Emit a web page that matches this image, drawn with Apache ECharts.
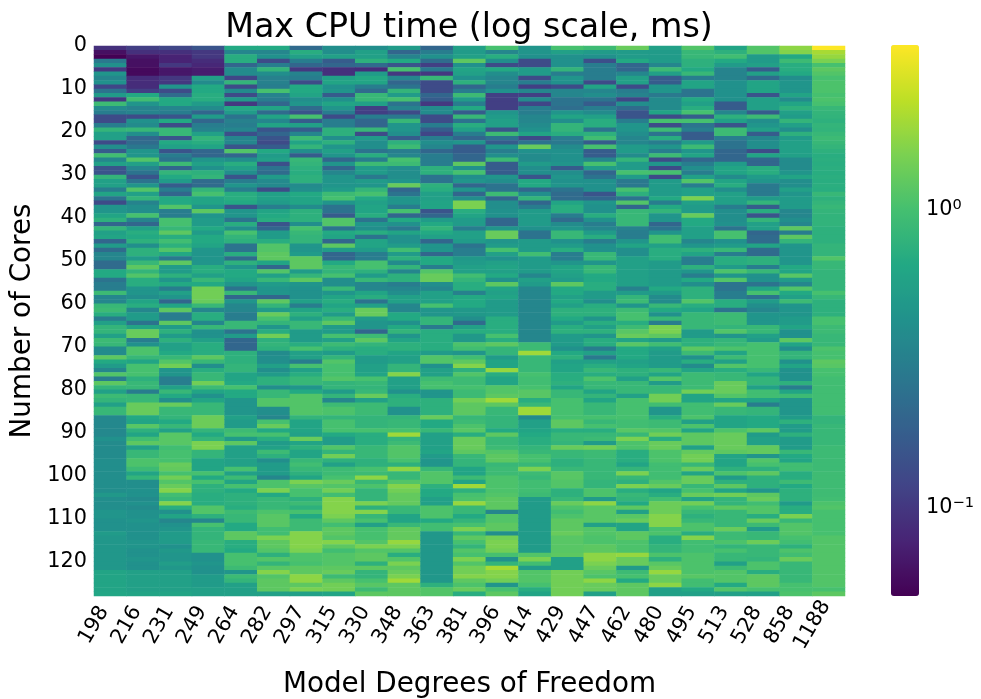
<!DOCTYPE html>
<html>
<head>
<meta charset="utf-8">
<title>Max CPU time</title>
<script src="https://cdn.jsdelivr.net/npm/echarts@6/dist/echarts.min.js"></script>
<style>
  html, body { margin: 0; padding: 0; background: #fff; }
  #chart { width: 981px; height: 699px; }
</style>
</head>
<body>
<div id="chart"></div>
<script>
// values, one list per model size, rows 0..127 (ms)
const col198 = [.09,.06,.05,.28,.42,.1,.45,.35,.42,.12,.25,.5,.1,.9,.38,.3,.13,.13,.3,.8,.55,.55,.13,.4,.17,.95,.35,.55,.15,.15,.8,.55,.55,.3,.6,.25,.13,.45,.45,.6,.75,.2,
  .8,.55,.6,.2,.5,.22,.35,.35,.22,.22,.65,.65,.25,.3,.3,.9,.35,.35,.85,.9,.7,.3,.55,.8,.8,.55,.9,.85,.38,.38,1.2,.65,.5,.35,1.1,.3,1.2,.8,.55,.9,.8,.55,.85,.85,
  .36,.36,.36,.36,.36,.42,.38,.38,.38,.38,.4,.4,.4,.4,.4,.4,.4,.4,.48,.4,.4,.4,.45,.45,.42,.42,.42,.5,.47,.47,.47,.47,.47,.47,.47,.47,.6,.6,.6,.6,.6,.62];
const col216 = [.11,.09,.065,.06,.06,.055,.055,.085,.085,.085,.11,.65,.95,.45,.33,.33,.13,.42,.38,.85,.4,.2,.22,.27,.45,.45,1.1,.55,.35,.25,.15,.25,.45,1.1,.55,.8,.33,.4,.4,1,.33,.2,
  .55,.7,.65,.75,.4,.75,.75,.5,.85,1.2,.8,1.1,.7,.7,.45,.45,.4,.6,.7,.35,.5,.5,.25,.6,1.3,1.3,.3,.42,1.05,1.05,.85,.6,1,1,1,.75,.85,.85,.3,.85,.85,1.3,1.3,1.3,
  .65,.6,1.15,.75,.6,.95,1.2,.55,.85,.85,1.05,1.05,.9,.6,.8,.4,.4,.42,.42,.38,.42,.38,.42,.42,.45,.42,.42,.42,.42,.45,.45,.42,.42,.45,.42,.42,.55,.55,.55,.55,.55,.6];
const col231 = [.12,.09,.075,.075,.1,.065,.065,.1,.1,.45,.13,.22,.65,.65,.35,.3,.15,.65,.13,.85,.85,.15,.65,.55,.15,.3,.25,.9,.2,.8,.65,.5,.17,.3,.2,.65,.65,1.1,.3,.3,1,1,
  .85,1.2,.7,.95,.75,1.1,.65,.28,1.2,.5,.5,.75,.45,.65,.3,.55,.45,.2,.6,1.2,.3,.3,1.2,.5,.75,.5,.75,.55,.55,.65,.85,1.1,1.4,.45,.45,.3,.3,.55,.85,.65,.4,1.3,.85,.85,
  .8,.65,.85,.55,1.15,1.15,1.15,.95,1,1,1,1.3,1.25,1,1.4,1.1,1.3,1.6,.95,.85,1.6,.7,.42,.6,.35,.42,.45,.5,.5,.5,.42,.48,.45,.45,.52,.47,.55,.55,.55,.55,.55,.6];
const col249 = [.15,.1,.1,.085,.08,.07,.07,.55,.38,.65,.65,.7,.7,.5,.38,.2,.5,.2,.3,.33,.55,.8,.7,.6,.2,.2,.45,.55,.42,.75,.8,.22,.22,.8,1,.6,.6,.45,1.2,.45,.5,.5,
  .65,.5,.65,.65,.6,.45,.45,.45,.45,.7,.7,.55,.85,.65,1.4,1.4,1.4,1.3,.85,.35,.7,.7,.35,.85,.42,.42,.55,.7,.7,.7,1.2,.85,.4,.7,.85,.85,1.4,.9,.6,.42,.6,.85,.85,.85,
  1.35,1.35,1.35,.8,.65,.8,1.5,1.5,.8,.8,.6,.6,.6,1,.65,1,.75,.75,.7,.7,.7,1.1,1.1,.75,.35,1,.8,.8,.8,.85,.85,.85,.42,.42,.45,.42,.42,.5,.5,.5,.55,.55];
const col264 = [.65,.35,.7,.7,.2,.38,.38,.12,.8,.13,.38,.13,.5,.1,.65,.5,.25,.32,.3,.35,.14,.35,.35,.15,1.1,.2,.4,.7,.55,.4,.15,.3,.45,.3,.7,.7,.65,.15,.45,.45,.25,.7,
  .4,1,.8,.75,.25,.25,.7,.22,.75,.45,.65,.65,.6,.45,.25,.85,.2,.45,.35,.35,.3,.3,.85,.85,.25,.5,.2,.2,.2,.75,.75,.75,.8,.8,.6,.6,.65,1,.65,.65,.45,.45,.45,.45,
  .55,.5,.5,.9,1,.5,1.2,.55,.55,.55,.55,.55,1,.55,.9,.6,1,.65,.75,.75,.75,.7,.9,.85,.85,.65,.65,1.2,1.2,.7,.7,.65,1,1,1,.9,.45,.9,.8,.55,.55,.55];
const col282 = [.65,.35,.42,.13,.3,.8,.4,.32,.32,.3,1,.33,.3,.2,.6,.22,.6,.35,.6,.15,.2,.15,.13,.17,.65,.5,.55,.14,.25,.22,.5,.37,.37,.13,.55,.55,.5,.3,.6,.65,.7,.15,
  .2,.5,.5,.7,1.1,1.1,1.2,1.2,.6,.2,1.1,.55,.85,.5,.45,.45,.2,1.2,.8,.5,1.3,1,.8,.45,.7,1.4,.75,.8,.75,.38,.4,.4,.55,.4,.5,.75,.75,.4,.85,.85,1.1,1.1,.4,.4,
  .35,1,1.3,.65,1,.7,.5,.55,.9,.75,.4,.5,.5,.5,.35,1.05,1.05,1.5,.65,.85,.85,.85,1.05,1.15,1.15,1.15,.95,.95,1.5,1.2,1.2,1.1,.75,1.1,.8,1.15,1.6,1.1,1.2,1.2,1.2,.55];
const col297 = [.22,.7,.55,.3,.2,.1,.33,.3,.13,.65,.65,.6,.4,.45,.22,.15,1,.17,.55,.17,.35,.9,.6,.8,.4,.17,.85,.8,.75,.7,.75,.75,.38,.4,.65,.6,.6,.38,.75,.75,.75,.4,
  1,.85,.8,.8,.45,.45,.5,1.2,1.2,1.2,.5,.8,1.2,.45,.42,.42,.42,.55,.3,.6,.75,.55,.85,.85,.5,.5,.5,.7,1,.55,.55,.3,1,.55,.7,.85,.85,.45,.65,1.1,1.1,1.1,1.1,1.1,
  .8,.6,.6,.6,.55,1.3,.6,.75,.6,.6,.85,.95,.85,.75,.6,1.5,1.15,1,1,.75,.9,.75,1,.65,.9,.9,.9,1.6,1.6,1.6,1.6,1.5,1.05,1.05,1,1.2,1.2,1.7,1.7,1.2,1.5,.55];
const col315 = [.4,.4,.55,.17,.2,.09,.09,.55,.6,.42,.45,.17,.42,.6,.45,.3,.13,.3,.3,.75,.75,.4,.75,.45,.55,.45,.2,.45,.2,.35,.45,.45,.45,.5,.9,1,.45,.25,.25,.17,1.1,1.1,
  .25,.65,.6,.2,1.2,.5,.2,.2,.65,.85,.8,1,.4,.4,.85,.45,.6,.7,.6,.7,.5,.85,1.2,.5,.5,1,.55,.9,.75,.5,.8,1.1,1,1,1,1.1,.8,.8,.5,.8,.35,.9,1.05,1.05,
  .8,1,1,1,.65,.5,.5,1.1,.8,1.4,.75,.55,.9,.9,1,1.3,1.1,1.4,.95,1.6,1.6,1.6,1.6,1.5,1.2,.95,1.2,1.2,1.1,1.6,1.2,.95,1.1,1.1,1.1,1.2,1.3,.9,1.2,1.4,1.4,.6];
const col330 = [.4,.55,.55,.75,.22,.085,.5,.65,.6,.3,.22,.85,.85,.55,.11,.11,.3,.2,.2,.85,.13,.5,.4,.4,.25,.7,.3,.9,.5,.5,.28,.5,.45,.8,1,.65,.55,.6,.6,.7,.25,.45,
  .4,.7,.25,.6,.6,.5,.3,.3,1,1,.75,.5,.85,.35,.35,.6,.7,.25,.55,1.3,1.3,.5,.45,.45,.2,.9,1.2,.8,.7,.7,.5,.5,.55,.55,.6,1,.85,.8,.85,1.3,.55,.9,.9,.9,
  .8,.8,.8,1,.7,.7,.7,.85,.85,.85,.75,.75,1,.9,1.7,.85,1.05,.8,.8,.8,1.5,.75,1.6,.85,1,.55,1,1,1,1.1,1.5,1.1,1.2,1.2,.75,1.2,.8,.8,1,1.15,.9,1.2];
const col348 = [.5,.2,.33,.65,.15,1,.1,.35,.2,.25,.8,.5,1,.25,.33,.13,.28,.85,.45,.45,.4,.17,.75,.9,.3,.35,1,.9,.4,.4,.4,.45,1.3,.2,.25,.45,.45,.3,1,.2,.65,.42,
  .28,.6,.42,.42,.5,.95,.5,.75,.38,.8,.35,.75,.75,.3,.35,.4,.55,.55,.35,.35,.65,.65,.42,.65,.8,.45,.6,.75,.75,.6,.55,.55,.8,.8,1.6,.55,.55,.55,.42,.7,.75,.75,.42,.42,
  .8,.85,.85,1,1.9,.8,.9,1.1,1.1,1.1,1,.75,1.7,.85,.85,1.1,1.6,1.4,1.25,1.25,1.25,.85,.85,.6,.6,.85,1.25,1.25,1.25,1.8,1.5,1.1,.7,1.1,1.5,1.2,1.3,1.5,1.9,1.2,1.2,1.2];
const col363 = [.2,.3,.42,.22,.11,.28,.1,.85,.13,.13,.13,.2,.17,.1,.38,.38,.13,.13,.3,.17,.12,.3,.4,.35,.2,.3,.3,.3,.75,.75,.25,.25,.75,.7,.55,.55,.6,.6,.15,.2,.5,.65,
  .8,.65,.55,.2,.45,.45,.2,.65,.65,.3,1.1,1.3,1.3,.4,.35,.55,.55,.55,1,.45,.45,.8,.8,.28,.7,.7,.7,.7,.7,.5,1.1,1.1,.42,.55,.55,.9,1,1,.45,.45,.75,.75,.75,.75,
  1.3,.65,.65,.85,.55,.55,.55,.55,.6,.5,.45,.45,.85,1.1,1.1,1.1,.75,.65,.65,.55,.55,1.05,1.05,1.05,.65,.95,.95,.47,.47,.47,.47,.47,.47,.47,.47,.47,.47,.47,.47,.75,1.1,1.1];
const col381 = [.55,.5,.55,1.2,.42,.6,.55,.42,.75,.2,.3,.9,.5,.3,.65,.17,.85,.25,.7,.55,.3,.2,.45,.17,.17,.2,.2,1.2,.42,1,.4,.45,.2,.45,.2,.4,1.5,1.5,.7,.6,.5,.5,
  .3,.55,.55,.5,.25,.3,.3,.48,.5,.55,.55,.95,.8,.7,.7,.32,.65,.65,.65,.48,.48,.4,.22,.55,.7,.48,.48,1.05,.95,.45,.95,1.2,1.6,.75,1.1,.9,.9,1,.9,.9,1.4,1.2,1.2,1.2,
  .85,.9,1.05,1.15,.7,1.3,1.3,1.3,1.2,.85,.8,.8,.6,.6,.9,.6,1.9,.75,1,1.05,1.8,.85,.85,.65,.8,1,1.5,.85,1.2,1,.8,1.1,1,1.5,1.1,1.4,1.4,1.6,1.2,1.05,1.3,.7];
const col396 = [1,.35,.7,.4,.13,.65,.4,.35,.35,.3,.42,.11,.11,.11,.11,.45,.5,.55,.55,.15,.9,.25,.17,.45,.3,.4,.9,.17,.17,.17,.45,.4,.25,.25,.9,.2,.4,.4,.42,.42,.2,.2,
  .45,1.3,1.3,.45,.5,1,.55,.42,.55,.6,.55,.65,.42,1.2,.6,.55,.6,.5,.5,.5,.5,.7,.7,.7,.7,1,.7,1.2,.8,.8,.5,.6,.6,1.8,.7,.6,.6,1.1,1.1,1.2,1.9,1.2,.85,.85,
  .8,.8,.8,.65,1.2,.85,.85,.9,1.1,1.2,1.2,.85,.9,.9,1.05,1.05,1.05,1.05,1.1,1.2,1.2,1.2,.35,1.1,1.1,1.2,1.2,.4,1.4,1.5,1.5,1.4,1,.42,.8,2,1.6,1.6,1.4,.45,1,1.2];
const col414 = [.45,.45,.42,.13,.13,.5,.5,.13,.3,.11,.35,.11,.38,.12,.3,.3,.35,.35,.38,.42,.6,.13,.25,1.3,.42,.38,.38,.5,.4,.4,.15,.65,.65,.2,.4,.8,.2,.3,.5,.5,.5,.5,
  .42,.25,.25,.5,.5,.5,.95,.5,.5,.5,.5,.35,.55,.5,.35,.35,.35,.35,.35,.35,.35,.35,.35,.35,.35,.35,.35,.9,.9,1.9,.85,.85,.85,.85,1,.95,.95,1,1.15,1.15,.7,.85,1.9,1.9,
  .38,.55,.55,.6,.65,.7,.7,.8,.85,1,1,.85,1.5,.9,.85,.95,.95,.95,.9,.5,.5,.5,.5,.5,.5,.5,.5,.5,.5,.5,.5,.5,1.1,1.5,.95,.5,1.1,1.1,1.1,1,.7,.6];
const col429 = [1,.55,.42,.42,.42,.8,.3,.45,.42,.13,.35,.35,.25,.25,.23,.45,.6,.4,.8,.8,.7,.3,.28,.38,.42,.42,.42,.45,.17,.4,.45,.42,.45,.25,.22,.22,.6,.7,.7,.3,.22,.38,
  .45,.85,.85,.42,.5,.7,.3,.3,.45,.6,.6,.55,.5,1.2,.65,.65,.55,.65,.55,.75,.75,.65,.5,.7,.75,.5,.5,.5,.42,.65,.75,.55,.6,.6,.7,.7,.75,.6,.85,.85,1,1,1,1,
  1,1.2,1.2,.7,.85,.85,.8,1.3,.85,.85,.75,.75,.85,1.15,1.15,1.1,1.1,.75,.75,.85,1.3,1.05,.95,1.05,1.2,1.2,1.2,1.3,1.15,1.15,1.15,1.15,1.2,.55,.55,.55,1.4,1.4,1.4,1.4,1.4,1.4];
const col447 = [.9,.5,.42,.14,.3,.3,.3,.3,.13,.6,.35,.4,.25,.17,.3,.38,.55,.7,.7,.25,.75,.95,.17,1,.17,.17,.35,1,.5,.2,.25,.42,.42,.42,.15,.2,.45,.42,.42,.7,.42,.3,
  .35,.5,.7,.3,.42,.42,.85,.85,.45,.85,.85,.65,.65,.7,.7,.5,.5,.4,.7,.75,.75,.45,.7,.55,.75,.45,.7,.7,.3,.55,.28,.55,.7,.85,.7,1.05,.85,.85,.6,.8,.6,.85,.85,.85,
  1,.85,1,.7,.85,.9,.5,1.4,.9,.9,.85,.85,.85,.85,.85,.8,.8,1.05,1.05,.5,1.7,1.15,1.15,1.15,1.15,.55,1.1,1.1,1.05,1.05,1.2,1.2,1.7,1.7,1.5,1.3,1.15,1.05,1.7,1.3,1.3,.55];
const col462 = [1.3,.5,.5,.65,.2,.2,.35,.55,.55,.13,.3,.33,.12,.4,.22,.15,.15,.3,.45,.45,.4,.35,.35,.5,.5,.38,.8,.5,.5,1,.5,.28,.28,1,.75,.25,1.1,.2,.85,.85,.85,.85,
  .32,.3,.3,.45,.6,.4,.4,.55,.55,.55,.55,.55,.55,.55,.32,.5,.8,.9,.45,.9,1,1,.7,.9,1.15,1.3,.6,1.15,.65,.65,.65,.55,.6,.75,.75,.55,.85,.85,.85,.55,1,1,1,1,
  1,.95,.95,1.15,.85,1.5,1.05,1.05,.7,.7,.7,.6,.8,1.5,.85,.75,1.5,.7,.85,.8,.65,1.2,.55,1.15,1.3,.6,.6,1.2,1.2,1.05,1.05,1.05,1.8,1.3,1.3,.5,.9,1,.65,1.2,1.2,1.2];
const col480 = [.55,.5,.5,.5,.35,.9,.55,.17,.17,.45,.45,.28,.38,.38,.38,.6,.13,1,.13,.9,.25,.7,.3,.45,.3,.9,.13,.45,.13,1,.13,.5,.5,.5,.5,.65,.3,.65,.8,.45,.45,.2,
  .25,.45,.95,.95,.55,.7,.7,.7,.5,.5,.5,.5,.5,.5,.65,.5,.38,.38,.85,.65,.42,.85,.3,1.5,1.5,1.2,.5,.95,.55,.5,.5,.5,.5,.85,.6,1.1,.5,.85,.85,1.4,1.4,.95,.45,.45,
  .7,.9,.9,1.1,1.4,.7,1.3,1.3,1.05,1.05,1.05,.95,.95,.95,.95,1.1,1.3,.6,.7,.95,1.35,1.35,1.35,1.6,1.6,1.6,1,1.05,.7,.7,.8,.8,1.05,.75,1.15,1.3,1.8,1.3,1.3,1.7,.55,.55];
const col495 = [1.1,.85,.85,.75,.75,.65,.85,.3,.6,.6,.25,.25,.65,.55,.7,1,.17,1,.25,.3,.17,.17,.5,.9,.45,.6,.2,.3,.4,.3,.55,1.1,.3,.55,.55,1.5,.55,.5,.5,1.3,.65,.65,
  .55,.55,.55,.35,.45,.75,.6,.3,.3,.75,.45,.3,.65,.4,.75,.75,.75,1.1,.7,.6,.85,.85,.85,.85,.5,.5,.75,.75,1.2,.9,.42,.7,.38,.6,.9,.9,.9,.9,1.4,.6,.6,.95,.95,.95,
  1.05,.55,1.05,.6,1.2,1.2,1.2,.55,1.25,1.4,1.4,.85,1.3,.6,1.3,1.3,.85,1,1.3,.6,1.4,1,.85,.75,.85,1.05,1.05,.7,1.6,.95,.95,.95,1.05,1.05,1.05,1.05,1.05,1.15,.95,.95,.65,.55];
const col513 = [.6,.75,.95,.65,.5,.33,.33,.33,.42,.42,.42,.42,.42,.17,.17,.35,.75,.55,.15,.9,.9,.3,.25,.25,.2,.2,.2,.5,.6,.6,.38,.6,.7,.4,.55,.55,.55,.3,.4,.4,.4,.42,
  .25,1,1,.42,.5,.85,.3,.7,.7,.5,1.05,.45,1.1,.25,.25,.3,.3,.7,.7,.25,.9,.9,.9,.8,1.1,.45,.8,.85,1.05,.6,.9,.55,1.1,.7,.85,.85,1.3,1.3,1.3,1.1,.6,1.3,.85,.85,
  .6,.6,.6,1.05,1.3,1.3,1.3,1.3,1.2,.6,.6,.6,.75,1.05,.5,.75,1.2,.6,1.4,.8,.8,1.2,.85,.85,.85,.85,1.3,.9,.9,1.05,.8,1,.85,.85,.55,.9,1.1,1.1,1.1,.65,1.1,.55];
const col528 = [1.1,1.1,.5,.5,.55,.17,.55,.22,.6,.6,.6,.15,.55,.55,.55,.17,.9,.4,.45,.55,.17,.35,.4,.4,.13,.6,.2,.2,.7,.7,.5,.45,.28,.28,.28,.5,.8,.17,.7,.15,.8,.55,
  .55,.2,.22,.22,.6,.22,.22,.75,.75,.3,.85,.42,.42,.25,.6,1,.25,.5,.4,.35,.45,.45,.45,.85,.85,.55,.5,1,1,1,1,1,1,.85,.6,.8,.8,.55,.95,.95,.6,.3,.8,.8,
  .65,.65,.65,1.2,.5,.55,.55,1.25,1.25,.45,1.1,1,.75,1.2,.75,.75,.75,.45,1.2,1.3,.95,1.1,1.1,.7,1.3,.9,.5,.85,.85,1.35,.85,.85,.85,.8,1.05,1.05,.7,1.2,1.2,1.2,1,.55];
const col858 = [1.7,1.6,.65,.9,.7,.7,.65,.4,.45,.45,.45,.6,.38,.6,.75,.55,.5,.8,.55,.4,.75,.5,.55,.55,.55,.55,.38,.38,.38,.45,.6,.4,.4,.55,.45,.5,.5,.5,.35,.35,.4,.35,
  1.2,.3,1.2,.8,.45,.45,.45,.45,.45,.65,.6,1.15,.5,.35,1.1,.65,.55,.9,.45,.45,.45,.5,.5,.6,.42,.42,1.2,.6,.4,.8,.8,.42,.6,.42,.42,.42,.75,.3,.6,.9,.45,.45,.45,.45,
  .5,.75,.5,.5,.75,.5,.5,.5,.85,.65,.6,.95,.95,.7,.7,.9,.65,.75,.75,.75,.5,.7,.7,1.5,.85,1.1,1.1,1.1,1,.95,.75,1.05,.95,1.3,.85,.85,.85,.85,.85,1,1,1.05];
const col1188 = [3.5,2,1.8,1.5,1,1.2,1.1,1,1.05,1.05,1.05,1,1.05,1,.85,.8,.78,.75,.8,.78,.85,.9,.85,.8,.75,.7,.72,.7,.72,.7,.72,.7,.72,.7,.85,.75,.8,.85,.8,.78,.78,.78,
  .75,.75,.75,.75,.8,.8,.8,1.1,.85,.85,.8,.8,.8,.8,.8,1,.85,.75,.75,.75,.75,1,1,.9,.9,.85,.85,.85,1.05,1,1,1.2,1.15,1,1,.95,.95,.95,.95,.95,.95,.95,.95,.95,
  .8,.8,.85,.85,.85,.85,.85,.9,.9,.9,.9,.9,.9,.92,.92,.92,.92,.92,.92,.95,1.05,1.1,1,1,1,1,1,1,1.1,1.1,1.1,1.1,1.1,1.1,1.1,1.1,1.1,1.1,1.1,1.1,1,1.2];

const columns = [col198, col216, col231, col249, col264, col282, col297, col315, col330, col348, col363, col381, col396, col414, col429, col447, col462, col480, col495, col513, col528, col858, col1188];
const dofLabels = ['198','216','231','249','264','282','297','315','330','348','363','381','396','414','429','447','462','480','495','513','528','858','1188'];
const coreTicks = [0,10,20,30,40,50,60,70,80,90,100,110,120];
const logTicks = [-1, 0];
const logTickLabels = ['{a|10}{b|−1}', '{a|10}{b|0}'];
// colour limits of the bar, log10(ms)
const logMin = -1.302;
const logMax = 0.547;

const viridis = ['#440154','#482475','#414487','#355f8d','#2a788e','#21918c','#22a884','#44bf70','#7ad151','#bddf26','#fde725'];
const font = '"DejaVu Sans"';

const rowNames = col198.map((_, i) => String(i));
const cells = [];
columns.forEach((col, x) => col.forEach((v, y) => cells.push([x, y, Math.log10(v)])));

const chart = echarts.init(document.getElementById('chart'), null, { renderer: 'canvas' });

chart.setOption({
  animation: false,
  backgroundColor: '#fff',
  title: {
    text: 'Max CPU time (log scale, ms)',
    left: 469,
    top: 12,
    padding: 0,
    textAlign: 'center',
    textStyle: { fontFamily: font, fontSize: 33.3, fontWeight: 'normal', color: '#000' }
  },
  grid: [
    { left: 94, top: 46, width: 751, height: 550, outerBoundsMode: 'none' },
    // the tick labels of the colour bar sit on this one
    { left: 891, top: 47, width: 28, height: 551, outerBoundsMode: 'none' }
  ],
  xAxis: [
    { type: 'category', gridIndex: 0, data: dofLabels, show: false },
    {
      type: 'value', gridIndex: 0, min: 0, max: 23, position: 'bottom',
      name: 'Model Degrees of Freedom', nameLocation: 'middle', nameGap: 75,
      nameTextStyle: { fontFamily: font, fontSize: 27.8, color: '#000' },
      splitLine: { show: false }, axisLine: { show: false }, axisTick: { show: false },
      axisLabel: {
        customValues: dofLabels.map((_, i) => i),
        formatter: v => dofLabels[v],
        rotate: 60, align: 'center', verticalAlign: 'middle', margin: 29,
        fontFamily: font, fontSize: 20.8, color: '#000'
      }
    },
    { type: 'value', gridIndex: 1, show: false, min: 0, max: 1 }
  ],
  yAxis: [
    { type: 'category', gridIndex: 0, data: rowNames, inverse: true, show: false },
    {
      type: 'value', gridIndex: 0, min: 0, max: 128, inverse: true, position: 'left',
      name: 'Number of Cores', nameLocation: 'middle', nameGap: 55,
      nameTextStyle: { fontFamily: font, fontSize: 27.8, color: '#000' },
      splitLine: { show: false }, axisLine: { show: false }, axisTick: { show: false },
      axisLabel: { customValues: coreTicks, margin: 7, fontFamily: font, fontSize: 20.8, color: '#000' }
    },
    {
      type: 'value', gridIndex: 1, min: logMin, max: logMax, position: 'right',
      splitLine: { show: false }, axisLine: { show: false }, axisTick: { show: false },
      axisLabel: {
        customValues: logTicks,
        formatter: v => logTickLabels[logTicks.indexOf(v)],
        margin: 7,
        rich: {
          a: { fontFamily: font, fontSize: 20.8, color: '#000' },
          b: { fontFamily: font, fontSize: 14.6, color: '#000', verticalAlign: 'bottom', padding: [0, 0, 9, 0] }
        }
      }
    }
  ],
  visualMap: {
    type: 'continuous',
    seriesIndex: 0,
    dimension: 2,
    min: logMin,
    max: logMax,
    left: 891,
    top: 45,
    itemWidth: 28,
    itemHeight: 551,
    calculable: false,
    hoverLink: false,
    text: null,
    showLabel: false,
    padding: 0,
    borderRadius: 0,
    inRange: { color: viridis }
  },
  series: [{
    type: 'heatmap',
    xAxisIndex: 0,
    yAxisIndex: 0,
    data: cells,
    progressive: 0,
    itemStyle: { borderWidth: 0 },
    emphasis: { disabled: true }
  }]
});
</script>
</body>
</html>
